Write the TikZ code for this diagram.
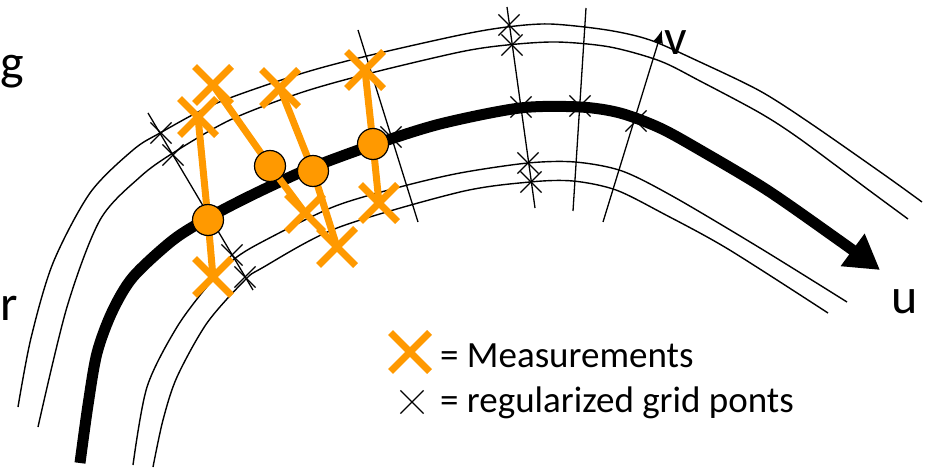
\documentclass[tikz,border=0pt]{standalone}
\usepackage{fontspec}
\setmainfont{Carlito}
\usetikzlibrary{shapes.misc,arrows.meta}
\definecolor{measorange}{HTML}{FF9900}

\tikzset{
  lane/.style={line width=1.4pt},
  track/.style={line width=11pt},
  gridline/.style={line width=1.3pt},
  gridpt/.style={cross out,draw,line width=1.2pt,minimum size=20pt,inner sep=0pt},
  measpt/.style={cross out,draw=measorange,line width=7pt,minimum size=30pt,inner sep=0pt},
  measline/.style={measorange,line width=7pt},
  measdot/.style={circle,fill=measorange,draw=black,line width=1.2pt,minimum size=31pt,inner sep=0pt},
  axlabel/.style={font=\fontsize{50}{54}\selectfont,inner sep=0pt},
  legtext/.style={font=\fontsize{37}{40}\selectfont,inner sep=0pt,anchor=base west}
}

\begin{document}
\begin{tikzpicture}[x=1pt,y=-1pt]
  \useasboundingbox (0,0) rectangle (927,468);

  % lane borders
  \draw[lane] plot[smooth] coordinates {(18,407) (31,338) (53,263) (90,193) (133,150) (160,133) (217,103) (300,74) (367,56) (460,35) (507,27) (550,24) (607,30) (650,40) (700,62) (760,91) (810,123) (886,176) (922,202)};
  \draw[lane] plot[smooth] coordinates {(38,427) (67,307) (100,220) (140,177) (173,153) (230,120) (300,93) (367,74) (460,52) (507,45) (557,42) (610,47) (660,61) (700,81) (760,113) (800,139) (870,191) (908,219)};
  \draw[lane] plot[smooth] coordinates {(133,465) (147,387) (177,327) (210,283) (233,260) (260,243) (333,207) (400,187) (460,173) (528,163) (575,162) (622,171) (674,197) (760,248) (847,302)};
  \draw[lane] plot[smooth] coordinates {(153,467) (163,420) (177,377) (207,323) (245,280) (262,268) (337,228) (460,192) (530,182) (573,181) (616,190) (664,214) (728,249) (828,313)};

  % grid lines
  \coordinate (g1a) at (148,113); \coordinate (g1b) at (253,290);
  \coordinate (g2a) at (358,30);  \coordinate (g2b) at (418,222);
  \coordinate (g3a) at (507,7);   \coordinate (g3b) at (535,208);
  \coordinate (g4a) at (586,8);   \coordinate (g4b) at (573,211);
  \coordinate (g5a) at (603,222); \coordinate (g5b) at (662,30);
  \draw[gridline] (g1a) -- (g1b);
  \draw[gridline] (g2a) -- (g2b);
  \draw[gridline] (g3a) -- (g3b);
  \draw[gridline] (g4a) -- (g4b);
  \draw[gridline,-{Latex[length=13pt,width=10pt]}] (g5a) -- (g5b);

  % regularized grid points
  \node[gridpt] (p11) at (161,133) {};
  \node[gridpt] (p12) at (173,155) {};
  \node[gridpt] (p13) at (210,217) {};
  \node[gridpt] (p14) at (232,255) {};
  \node[gridpt] (p15) at (245,277) {};
  \node[gridpt] (p23) at (391,137) {};
  \node[gridpt] (p31) at (509,25) {};
  \node[gridpt] (p32) at (512,45) {};
  \node[gridpt] (p33) at (521,107) {};
  \node[gridpt] (p34) at (528,163) {};
  \node[gridpt] (p35) at (531,182) {};
  \node[gridpt] (p43) at (580,106) {};
  \node[gridpt] (p53) at (636,121) {};

  % centre line
  \draw[track,-{Triangle[length=34pt,width=38pt]}] plot[smooth] coordinates {(80,463) (88,405) (97,353) (112,312) (133,277) (173,240) (208,218) (240,201) (273,185) (313,167) (373,145) (440,124) (520,108) (580,107) (620,113) (660,128) (700,150) (767,190) (840,241) (880,270)};

  % measurements
  \coordinate (d1) at (208,220);
  \coordinate (d2) at (270,166);
  \coordinate (d3) at (313,171);
  \coordinate (d4) at (373,144);
  \node[measpt] (m1a) at (198,117) {};
  \node[measpt] (m1b) at (213,277) {};
  \node[measpt] (m2a) at (213,85) {};
  \node[measpt] (m2b) at (305,213) {};
  \node[measpt] (m3a) at (280,88) {};
  \node[measpt] (m3b) at (337,247) {};
  \node[measpt] (m4a) at (365,70) {};
  \node[measpt] (m4b) at (379,203) {};
  \draw[measline] (m1a.center) -- (d1) -- (m1b.center);
  \draw[measline] (m2a.center) -- (d2) -- (m2b.center);
  \draw[measline] (m3a.center) -- (d3) -- (m3b.center);
  \draw[measline] (m4a.center) -- (d4) -- (m4b.center);
  \node[measdot] (dot1) at (d1) {};
  \node[measdot] (dot2) at (d2) {};
  \node[measdot] (dot3) at (d3) {};
  \node[measdot] (dot4) at (d4) {};

  % labels
  \node[axlabel,anchor=base west] (glab) at (0,80) {g};
  \node[axlabel,anchor=base west] (rlab) at (0,320) {r};
  \node[axlabel,anchor=base west] (ulab) at (891,313) {u};
  \node[axlabel,anchor=base west] (vlab) at (664,55) {v};

  % legend
  \node[measpt,minimum size=32pt] (legm) at (410,352) {};
  \node[gridpt,minimum size=22pt] (legg) at (412,402) {};
  \node[legtext] (legmtxt) at (440,367) {= Measurements};
  \node[legtext] (leggtxt) at (440,412) {= regularized grid ponts};
\end{tikzpicture}
\end{document}
